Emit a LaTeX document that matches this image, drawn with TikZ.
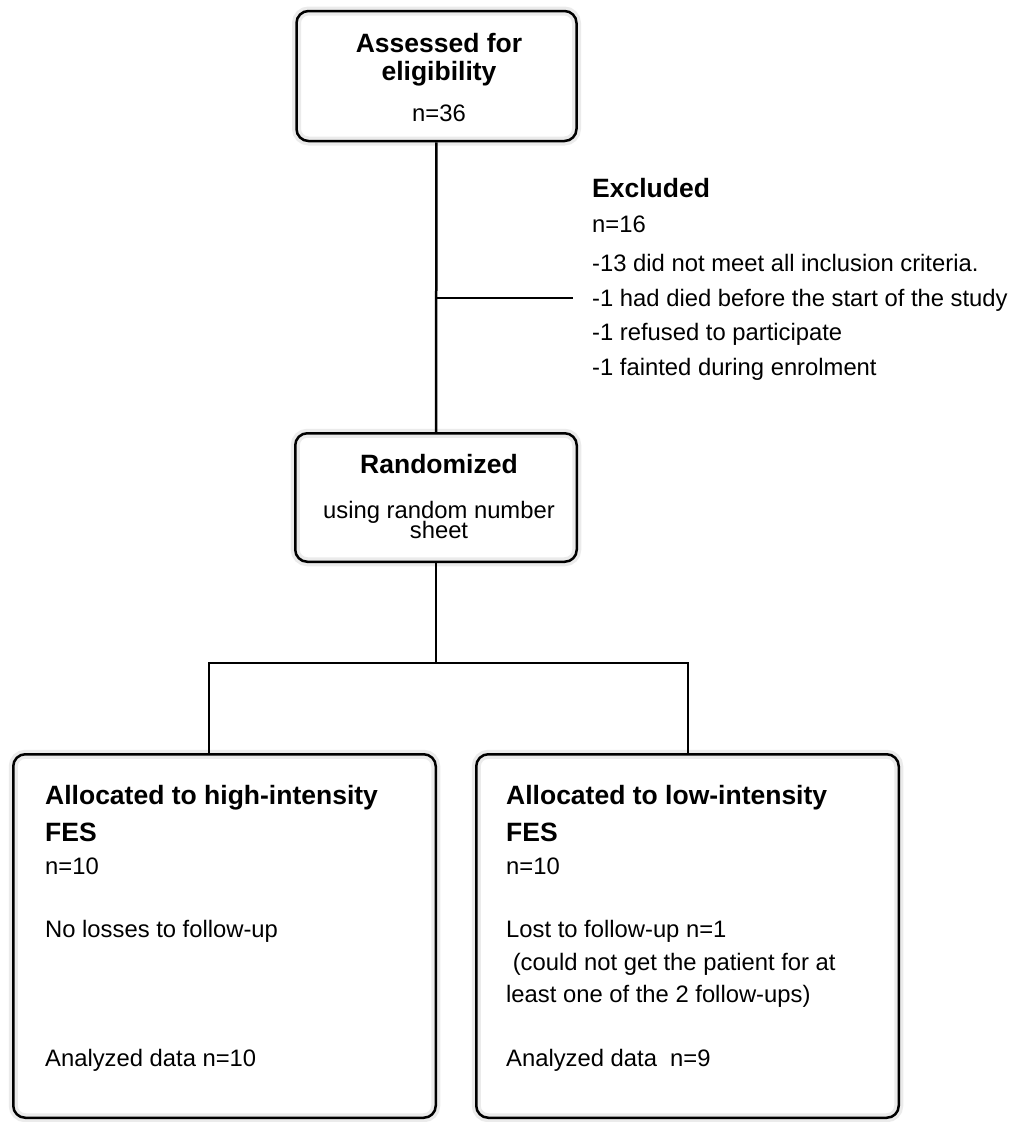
\documentclass[tikz,border=0pt]{standalone}
\usepackage{fontspec}
\setmainfont{Liberation Sans}

\begin{document}
\begin{tikzpicture}[x=1pt,y=-1pt,
  box/.style = {draw,line width=2.5,rounded corners=12,preaction={draw=black!8,line width=9}},
  head/.style = {font=\fontsize{26.5}{30}\selectfont\bfseries,inner sep=0},
  txt/.style = {font=\fontsize{23.8}{32}\selectfont,inner sep=0},
  link/.style = {line width=2.5}]
\useasboundingbox (0,0) rectangle (1016,1122);

\node[box,minimum width=280,minimum height=130] (assess) at (436.5,76) {};
\node[box,minimum width=281.5,minimum height=128.5] (rand) at (436,497.5) {};
\node[box,minimum width=422.5,minimum height=363.5] (high) at (224.5,936) {};
\node[box,minimum width=422.5,minimum height=363.5] (low) at (687.5,936) {};

\node[head,anchor=base] (assessT1) at (439,52) {Assessed for};
\node[head,anchor=base] (assessT2) at (439,80) {eligibility};
\node[txt,anchor=base] (assessN) at (439,121) {n=36};

\node[head,anchor=base west] (exclT) at (592,197) {Excluded};
\node[txt,anchor=base west] (exclN) at (592,232) {n=16};
\node[txt,anchor=base west] (excl1) at (592,271) {-13 did not meet all inclusion criteria.};
\node[txt,anchor=base west] (excl2) at (592,306) {-1 had died before the start of the study};
\node[txt,anchor=base west] (excl3) at (592,340) {-1 refused to participate};
\node[txt,anchor=base west] (excl4) at (592,375) {-1 fainted during enrolment};

\node[head,anchor=base] (randT) at (439,473) {Randomized};
\node[txt,anchor=base] (randS1) at (439,518) {using random number};
\node[txt,anchor=base] (randS2) at (439,538) {sheet};

\node[head,anchor=base west] (highT1) at (45,804) {Allocated to high-intensity};
\node[head,anchor=base west] (highT2) at (45,841) {FES};
\node[txt,anchor=base west] (highN) at (45,874) {n=10};
\node[txt,anchor=base west] (highLoss) at (45,937) {No losses to follow-up};
\node[txt,anchor=base west] (highData) at (45,1066) {Analyzed data n=10};

\node[head,anchor=base west] (lowT1) at (506,804) {Allocated to low-intensity};
\node[head,anchor=base west] (lowT2) at (506,841) {FES};
\node[txt,anchor=base west] (lowN) at (506,874) {n=10};
\node[txt,anchor=base west] (lowLoss1) at (506,937) {Lost to follow-up n=1};
\node[txt,anchor=base west] (lowLoss2) at (506,970) {\ (could not get the patient for at};
\node[txt,anchor=base west] (lowLoss3) at (506,1002) {least one of the 2 follow-ups)};
\node[txt,anchor=base west] (lowData) at (506,1066) {Analyzed data\ \ n=9};

\coordinate (excl) at (573,298);
\coordinate (split) at (436,663);
\coordinate (splitL) at (209,663);
\coordinate (splitR) at (688,663);

\draw[link] (assess) -- (rand);
\draw[link] (assess |- excl) -- (excl);
\draw[link] (rand) -- (split);
\draw[link] (splitL |- high.north) -- (splitL) -- (splitR) -- (splitR |- low.north);
\end{tikzpicture}
\end{document}
